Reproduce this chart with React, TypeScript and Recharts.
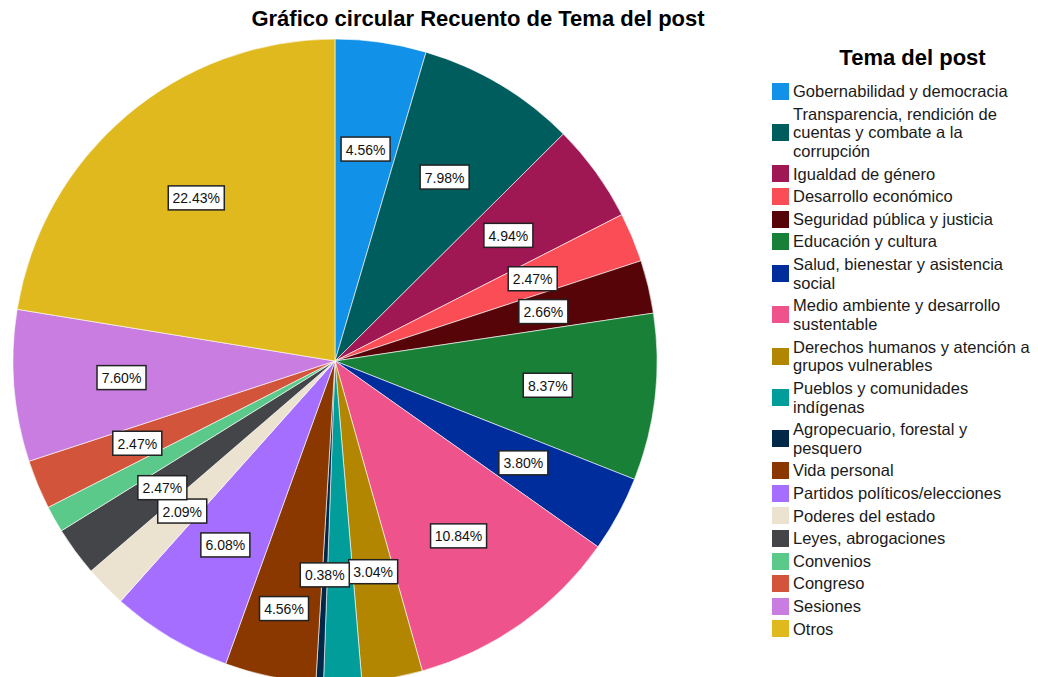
import React from 'react';
import { PieChart, Pie, Cell } from 'recharts';

const TITLE = 'Gráfico circular Recuento de Tema del post';
const LEGEND_TITLE = 'Tema del post';

const categories = [
  'Gobernabilidad y democracia',
  'Transparencia, rendición de cuentas y combate a la corrupción',
  'Igualdad de género',
  'Desarrollo económico',
  'Seguridad pública y justicia',
  'Educación y cultura',
  'Salud, bienestar y asistencia social',
  'Medio ambiente y desarrollo sustentable',
  'Derechos humanos y atención a grupos vulnerables',
  'Pueblos y comunidades indígenas',
  'Agropecuario, forestal y pesquero',
  'Vida personal',
  'Partidos políticos/elecciones',
  'Poderes del estado',
  'Leyes, abrogaciones',
  'Convenios',
  'Congreso',
  'Sesiones',
  'Otros',
];

const counts = [24, 42, 26, 13, 14, 44, 20, 57, 16, 10, 2, 24, 32, 11, 13, 7, 13, 40, 118];

const colors = [
  '#1192e8', '#005d5d', '#9f1853', '#fa4d56', '#570408', '#198038', '#002d9c',
  '#ee538b', '#b28600', '#009d9a', '#012749', '#8a3800', '#a56eff', '#ebe3d0',
  '#444548', '#5bc98a', '#d2543a', '#c97de0', '#e0b91e',
];

const data = categories.map((name, i) => ({ name, value: counts[i] }));

const RAD = Math.PI / 180;
const LABEL_FONT = 14;
const FONT = '"Liberation Sans", Arial, Helvetica, sans-serif';

function textWidth(s: string) {
  let w = 0;
  for (const ch of s) {
    if (ch === '.') w += 0.278;
    else if (ch === '%') w += 0.889;
    else w += 0.556;
  }
  return w * LABEL_FONT;
}

const placed: ({ x: number; y: number; w: number } | null)[] = [];
const BOX_H = 24;

function collides(index: number, x: number, y: number, w: number) {
  for (let j = 0; j < index; j++) {
    const p = placed[j];
    if (!p) continue;
    const ox = (p.w + w) / 2 - Math.abs(p.x - x);
    const oy = BOX_H - Math.abs(p.y - y);
    if (ox > 1.5 && oy > 1.5) return true;
  }
  return false;
}

function renderLabel(props: any) {
  const { cx, cy, midAngle, outerRadius, percent, index } = props;
  const txt = (percent * 100).toFixed(2) + '%';
  const w = Math.round(textWidth(txt) + 9);
  const h = BOX_H;
  const cos = Math.cos(-midAngle * RAD);
  const sin = Math.sin(-midAngle * RAD);
  let frac = 0.665;
  let x = cx + outerRadius * frac * cos;
  let y = cy + outerRadius * frac * sin;
  let hidden = collides(index, x, y, w);
  if (hidden && percent > 0.03) {
    while (hidden && frac < 0.82) {
      frac += 0.04;
      x = cx + outerRadius * frac * cos;
      y = cy + outerRadius * frac * sin;
      hidden = collides(index, x, y, w);
    }
  }
  placed[index] = hidden ? null : { x, y, w };
  if (hidden) return <g />;
  return (
    <g>
      <rect x={x - w / 2} y={y - h / 2} width={w} height={h} fill="#ffffff" stroke="#222222" strokeWidth={1.5} />
      <text
        x={x}
        y={y + 0.5}
        textAnchor="middle"
        dominantBaseline="central"
        fontSize={LABEL_FONT}
        fontFamily={FONT}
        fill="#111111"
      >
        {txt}
      </text>
    </g>
  );
}

export default function App() {
  return (
    <div style={{ position: 'absolute', left: 0, top: 0, width: 1038, height: 677, background: '#fff', fontFamily: FONT }}>
      <PieChart width={1038} height={677} margin={{ top: 0, right: 0, bottom: 0, left: 0 }}>
        <Pie
          data={data}
          dataKey="value"
          nameKey="name"
          cx={335}
          cy={361}
          outerRadius={322}
          innerRadius={0}
          startAngle={90}
          endAngle={-270}
          isAnimationActive={false}
          label={renderLabel}
          labelLine={false}
          stroke="#ffffff"
          strokeWidth={0.6}
        >
          {data.map((d, i) => (
            <Cell key={d.name} fill={colors[i]} />
          ))}
        </Pie>
      </PieChart>
      <div
        style={{
          position: 'absolute',
          left: 178,
          top: 8.4,
          width: 600,
          textAlign: 'center',
          fontSize: 22,
          lineHeight: '22px',
          fontWeight: 'bold',
          color: '#000',
          whiteSpace: 'nowrap',
        }}
      >
        {TITLE}
      </div>
      <div
        style={{
          position: 'absolute',
          left: 800,
          top: 47.4,
          width: 225,
          textAlign: 'center',
          fontSize: 22,
          lineHeight: '22px',
          fontWeight: 'bold',
          color: '#000',
          whiteSpace: 'nowrap',
        }}
      >
        {LEGEND_TITLE}
      </div>
      <div style={{ position: 'absolute', left: 772, top: 82 }}>
        {categories.map((name, i) => (
          <div key={name} style={{ display: 'flex', alignItems: 'center', marginBottom: 3.9 }}>
            <div style={{ width: 17, height: 17, background: colors[i], marginRight: 4, flex: '0 0 auto' }} />
            <div style={{ width: 240, fontSize: 16.5, lineHeight: '18.7px', color: '#1a1a1a' }}>{name}</div>
          </div>
        ))}
      </div>
    </div>
  );
}
